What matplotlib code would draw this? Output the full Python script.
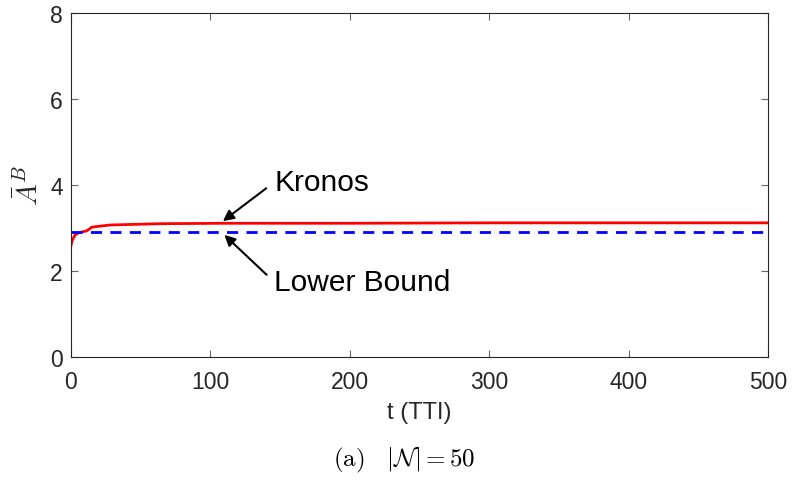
import numpy as np
import matplotlib
matplotlib.use('Agg')
import matplotlib.pyplot as plt

plt.rcParams['font.family'] = ['Liberation Sans', 'DejaVu Sans']
plt.rcParams['mathtext.fontset'] = 'cm'

# Kronos curve
t_kronos = [0, 1, 2, 3, 5, 8, 11, 13, 15, 20, 28, 40, 64, 110, 200, 300, 400, 500]
a_kronos = [2.59, 2.72, 2.78, 2.84, 2.88, 2.91, 2.93, 2.97, 3.02, 3.04, 3.07, 3.08, 3.10, 3.11, 3.11, 3.12, 3.12, 3.12]

# lower bound
t_lower = [0, 500]
a_lower = [2.90, 2.90]

fig = plt.figure(figsize=(7.92, 4.81), dpi=100)
ax = fig.add_axes([0.0896, 0.2557, 0.8801, 0.7152])

ax.plot(t_kronos, a_kronos, color='red', lw=2)
ax.plot(t_lower, a_lower, color='blue', lw=2, ls=(0, (4, 3)))

ax.set_xlim(0, 500)
ax.set_ylim(0, 8)
ax.set_xticks([0, 100, 200, 300, 400, 500])
ax.set_yticks([0, 2, 4, 6, 8])
ax.tick_params(direction='in', labelsize=16.5, length=5, width=0.8, color='#666666',
               labelcolor='#262626', top=True, right=True)
ax.tick_params(axis='x', pad=9)
ax.tick_params(axis='y', pad=6)
for s in ax.spines.values():
    s.set_color('#262626')
    s.set_linewidth(0.8)

ax.set_xlabel('t (TTI)', fontsize=17, labelpad=6, color='#262626')
ax.set_ylabel(r'$\bar{A}^B$', fontsize=21, labelpad=4, color='#262626')

arrow = dict(arrowstyle='-|>', color='black', lw=1.5, mutation_scale=16,
             shrinkA=5, shrinkB=0, relpos=(0, 0.5))
ax.annotate('Kronos', xy=(109, 3.16), xytext=(146, 4.07), fontsize=21.5, va='center',
            arrowprops=arrow)
ax.annotate('Lower Bound', xy=(110, 2.84), xytext=(146, 1.74), fontsize=21.5, va='center',
            arrowprops=arrow)

fig.text(404 / 792, 1 - 460 / 481, r'$\mathrm{(a)}\ \ \ |\mathcal{N}| = 50$', fontsize=18,
         ha='center', va='center')

plt.savefig('out.png', dpi=100)
